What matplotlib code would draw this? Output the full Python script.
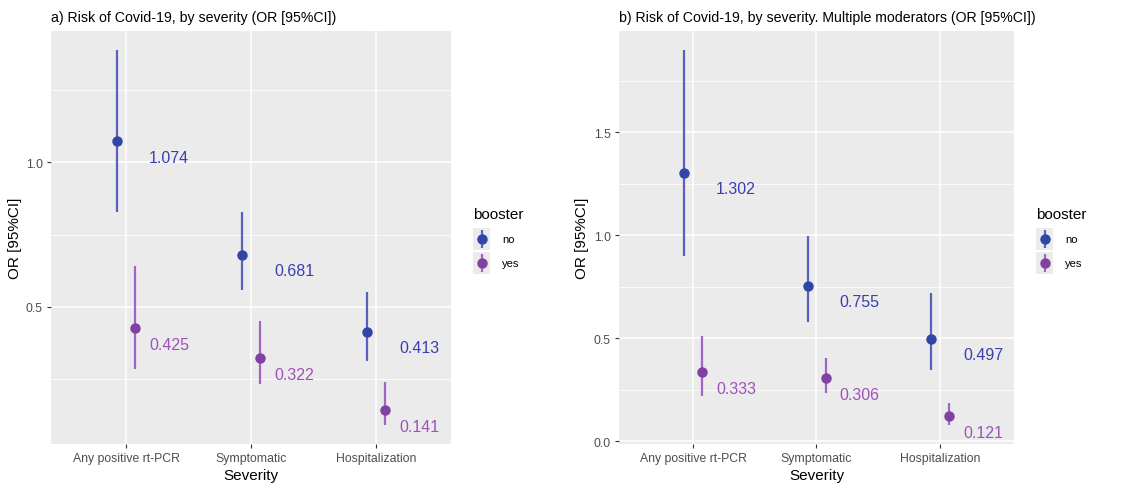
import matplotlib
matplotlib.use("Agg")
import matplotlib.pyplot as plt
import numpy as np

plt.rcParams['font.family'] = ['Liberation Sans', 'DejaVu Sans']

# categories / groups
severity = ["Any positive rt-PCR", "Symptomatic", "Hospitalization"]
groups = ["no", "yes"]

# panel a) OR and 95% CI
a_no_or = [1.074, 0.681, 0.413]
a_no_lo = [0.828, 0.559, 0.314]
a_no_hi = [1.390, 0.828, 0.552]
a_yes_or = [0.425, 0.322, 0.141]
a_yes_lo = [0.286, 0.234, 0.090]
a_yes_hi = [0.641, 0.452, 0.241]

# panel b) OR and 95% CI, multiple moderators
b_no_or = [1.302, 0.755, 0.497]
b_no_lo = [0.900, 0.577, 0.345]
b_no_hi = [1.900, 0.995, 0.718]
b_yes_or = [0.333, 0.306, 0.121]
b_yes_lo = [0.220, 0.233, 0.077]
b_yes_hi = [0.510, 0.403, 0.184]

line_col = {"no": "#5a60be", "yes": "#a165c6"}
pt_col = {"no": "#2f46a6", "yes": "#8141a1"}
txt_col = {"no": "#3b3faf", "yes": "#9d52b8"}
dodge = {"no": -0.07, "yes": 0.075}

fig = plt.figure(figsize=(11.26, 4.85), dpi=100)


def panel(rect, title, series, major, minor):
    ax = fig.add_axes(rect)
    ax.set_facecolor("#ebebeb")
    x = np.arange(1, len(severity) + 1)
    allv = []
    for g, (orv, lo, hi) in series.items():
        xs = x + dodge[g]
        ax.vlines(xs, lo, hi, color=line_col[g], lw=1.6, zorder=3)
        ax.plot(xs, orv, 'o', color=pt_col[g], ms=6.5, zorder=4)
        for xi, v in zip(x, orv):
            ax.annotate(f"{v:.3f}", xy=(xi, v), xytext=(31, -11.5),
                        textcoords="offset points", ha="center", va="center",
                        color=txt_col[g], fontsize=11.5)
        allv += list(lo) + list(hi)
    rng = max(allv) - min(allv)
    ax.set_ylim(min(allv) - 0.05 * rng, max(allv) + 0.05 * rng)
    ax.set_xlim(0.4, len(severity) + 0.6)
    ax.set_xticks(x)
    ax.set_xticklabels(severity)
    ax.set_yticks(major)
    ax.set_yticks(minor, minor=True)
    ax.yaxis.set_major_formatter(matplotlib.ticker.FormatStrFormatter("%.1f"))
    ax.grid(True, which="major", color="white", lw=1.1)
    ax.grid(True, which="minor", axis="y", color="white", lw=0.55)
    ax.set_axisbelow(True)
    for s in ax.spines.values():
        s.set_visible(False)
    ax.tick_params(which="major", length=3, color="#333333", labelsize=8.8,
                   labelcolor="#4d4d4d", pad=3)
    ax.tick_params(which="minor", length=0)
    ax.set_xlabel("Severity", fontsize=11, labelpad=3)
    ax.set_ylabel("OR [95%CI]", fontsize=11, labelpad=3)
    ax.set_title(title, loc="left", fontsize=10.2, pad=7)
    return ax


ax1 = panel([0.0453, 0.0825, 0.3552, 0.8515],
            "a) Risk of Covid-19, by severity (OR [95%CI])",
            {"no": (a_no_or, a_no_lo, a_no_hi), "yes": (a_yes_or, a_yes_lo, a_yes_hi)},
            [0.5, 1.0], [0.25, 0.75, 1.25])
ax2 = panel([0.5497, 0.0825, 0.3508, 0.8515],
            "b) Risk of Covid-19, by severity. Multiple moderators (OR [95%CI])",
            {"no": (b_no_or, b_no_lo, b_no_hi), "yes": (b_yes_or, b_yes_lo, b_yes_hi)},
            [0.0, 0.5, 1.0, 1.5], [0.25, 0.75, 1.25, 1.75])


def legend(x0):
    # title
    fig.text(x0 / 1126, 1 - 215 / 485, "booster", fontsize=11, va="center", ha="left")
    for i, g in enumerate(groups):
        yc = 240 + 24 * i
        kax = fig.add_axes([x0 / 1126, 1 - (yc + 11) / 485, 17 / 1126, 22 / 485])
        kax.set_facecolor("#ebebeb")
        kax.set_xlim(0, 1)
        kax.set_ylim(0, 1)
        kax.vlines(0.5, 0.1, 0.9, color=line_col[g], lw=1.6)
        kax.plot(0.5, 0.5, 'o', color=pt_col[g], ms=6.5)
        kax.set_xticks([])
        kax.set_yticks([])
        for s in kax.spines.values():
            s.set_visible(False)
        fig.text((x0 + 29) / 1126, 1 - yc / 485, g, fontsize=8, va="center", ha="left")


legend(473)
legend(1036)

fig.savefig("out.png", dpi=100)
